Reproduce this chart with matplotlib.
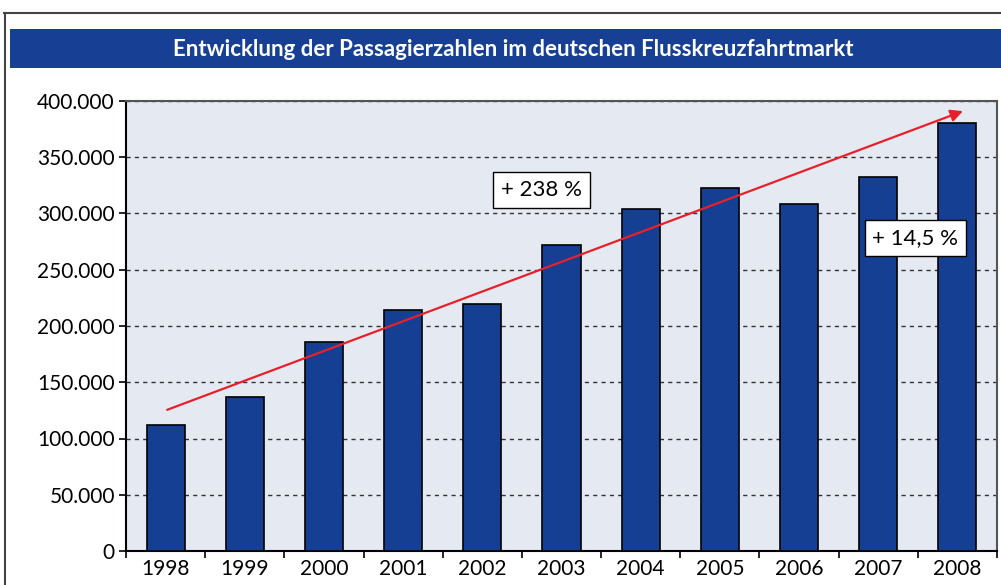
import matplotlib

matplotlib.use("Agg")
import matplotlib.pyplot as plt
from matplotlib.patches import Rectangle
from matplotlib.lines import Line2D
from matplotlib.ticker import FuncFormatter, MultipleLocator
import numpy as np

years = ["1998", "1999", "2000", "2001", "2002", "2003", "2004", "2005", "2006", "2007", "2008"]
passengers = [112000, 137000, 186000, 214000, 220000, 272000, 304000, 323000, 308000, 332000, 380000]
title = "Entwicklung der Passagierzahlen im deutschen Flusskreuzfahrtmarkt"
growth_total = "+ 238 %"
growth_last = "+ 14,5 %"

BAR_COLOR = "#153f93"
BG_COLOR = "#e5e9f2"

plt.rcParams["font.family"] = ["Lato", "DejaVu Sans"]

fig = plt.figure(figsize=(10.01, 5.85), dpi=100)

# outer frame and title band
fig.add_artist(Line2D([4 / 1001, 1.0], [1 - 13 / 585] * 2, color="#444444", lw=1.5))
fig.add_artist(Line2D([5 / 1001] * 2, [0, 1 - 13 / 585], color="#444444", lw=1.5))
fig.add_artist(Rectangle((10 / 1001, 1 - 68 / 585), 1 - 10 / 1001, 39 / 585,
                         transform=fig.transFigure, color="#173f94", lw=0))
fig.text(0.513, 1 - 49 / 585, title, color="white", fontsize=16, fontweight="bold",
         ha="center", va="center")

ax = fig.add_axes([126 / 1001, 34 / 585, 871 / 1001, 450 / 585])
ax.set_facecolor(BG_COLOR)
x = np.arange(len(years))
ax.bar(x, passengers, width=0.48, color=BAR_COLOR, edgecolor="black", linewidth=1.2, zorder=3)

ax.set_xlim(-0.5, len(years) - 0.5)
ax.set_ylim(0, 400000)
ax.yaxis.set_major_locator(MultipleLocator(50000))
ax.yaxis.set_major_formatter(FuncFormatter(lambda v, _: f"{int(v):,}".replace(",", ".")))
ax.grid(axis="y", linestyle=(0, (3, 3)), color="#333333", linewidth=1.0, zorder=1)

ax.set_xticks(x)
ax.set_xticklabels(years)
ax.set_xticks(np.arange(len(years) + 1) - 0.5, minor=True)
ax.tick_params(axis="x", which="major", length=0, labelsize=15, pad=6)
ax.tick_params(axis="x", which="minor", length=5, direction="out", width=1.2)
ax.tick_params(axis="y", length=5, direction="out", width=1.2, labelsize=15, pad=3)

for side in ["left", "bottom"]:
    ax.spines[side].set_color("black")
    ax.spines[side].set_linewidth(1.5)
for side in ["top", "right"]:
    ax.spines[side].set_color("#555555")
    ax.spines[side].set_linewidth(1.5)

# trend arrow
ax.annotate("", xy=(10.07, 391000), xytext=(0.02, 125500),
            arrowprops=dict(arrowstyle="-|>", color="#e8202a", lw=1.6,
                            mutation_scale=18, shrinkA=0, shrinkB=0), zorder=5)

box = dict(boxstyle="square,pad=0.35", facecolor="white", edgecolor="black", linewidth=1.0)
ax.text(4.75, 321000, growth_total, fontsize=16, ha="center", va="center", bbox=box, zorder=6)
ax.text(9.47, 278000, growth_last, fontsize=16, ha="center", va="center", bbox=box, zorder=6)

fig.savefig("out.png", dpi=100)
